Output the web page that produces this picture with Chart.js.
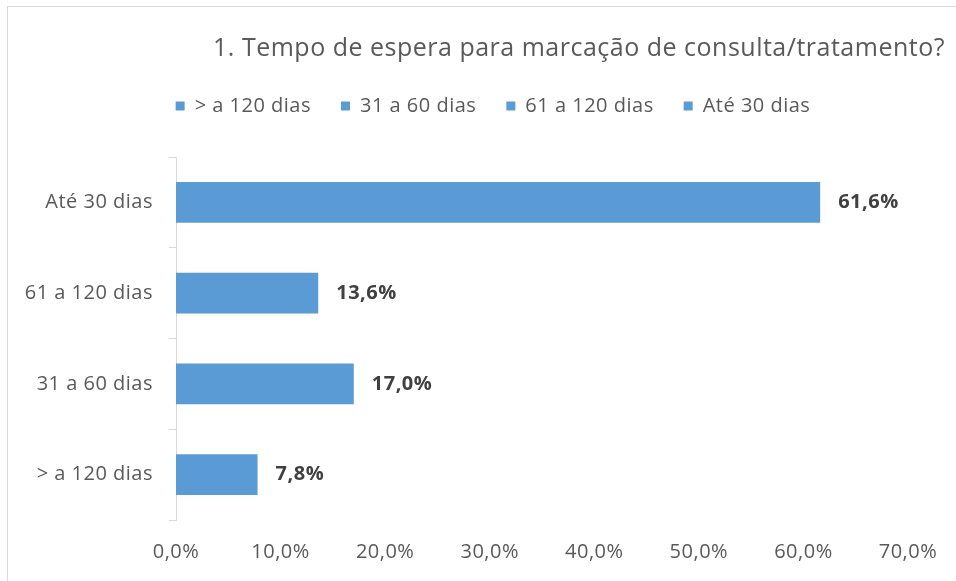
<!doctype html>
<html lang="pt">
<head>
    <meta charset="utf-8">
    <title>Tempo de espera</title>
    <script src="https://cdn.jsdelivr.net/npm/chart.js@4.4.1/dist/chart.umd.min.js"></script>
    <style>
        body { margin: 0; background: #fff; overflow: hidden; }
        #wrap { position: relative; width: 956px; height: 581px; }
        #frame { position: absolute; left: 7px; top: 6px; width: 2000px; height: 2000px; border: 1px solid #d9d9d9; }
        canvas { position: absolute; left: 0; top: 0; }
    </style>
</head>
<body>
<div id="wrap">
    <div id="frame"></div>
    <canvas id="chart" width="956" height="581"></canvas>
</div>

<script>
    const titleText = '1. Tempo de espera para marcação de consulta/tratamento?';
    const categories = ['> a 120 dias', '31 a 60 dias', '61 a 120 dias', 'Até 30 dias'];
    const values = [7.8, 17.0, 13.6, 61.6];
    const xTicks = [0, 10, 20, 30, 40, 50, 60, 70];

    const barColor = '#5b9bd5';
    const textColor = '#595959';
    const fontFamily = '"Open Sans", sans-serif';

    const pct = v => v.toFixed(1).replace('.', ',') + '%';

    // Calibri-like wide spacing, a bit of gap under the legend and a shifted legend centre
    const excelLook = {
        id: 'excelLook',
        beforeUpdate(chart) {
            chart.ctx.letterSpacing = '0.5px';
        },
        beforeDraw(chart) {
            chart.ctx.letterSpacing = '0.5px';
        },
        afterInit(chart) {
            const fit = chart.legend.fit;
            chart.legend.fit = function () {
                fit.call(this);
                this.height += 31;
            };
        },
        afterLayout(chart) {
            chart.legend.left += 33;
        }
    };

    // value labels to the right of each bar
    const barLabels = {
        id: 'barLabels',
        afterDatasetsDraw(chart) {
            const ctx = chart.ctx;
            const meta = chart.getDatasetMeta(0);
            ctx.save();
            ctx.font = 'bold 20px ' + fontFamily;
            ctx.fillStyle = '#404040';
            ctx.textAlign = 'left';
            ctx.textBaseline = 'middle';
            meta.data.forEach((bar, i) => {
                ctx.fillText(pct(values[i]), bar.x + 18, bar.y);
            });
            ctx.restore();
        }
    };

    new Chart(document.getElementById('chart'), {
        type: 'bar',
        data: {
            labels: categories,
            datasets: [{
                data: values,
                backgroundColor: barColor,
                borderWidth: 0,
                barPercentage: 0.45,
                categoryPercentage: 1.0,
            }],
        },
        options: {
            indexAxis: 'y',
            responsive: false,
            animation: false,
            layout: {
                padding: { left: 8, right: 11, top: 0, bottom: 0 },
            },
            plugins: {
                title: {
                    display: true,
                    text: titleText,
                    align: 'end',
                    color: textColor,
                    font: { family: fontFamily, size: 25, weight: 'normal' },
                    padding: { top: 34, bottom: 2 },
                },
                legend: {
                    display: true,
                    position: 'top',
                    align: 'center',
                    labels: {
                        boxWidth: 9,
                        boxHeight: 9,
                        padding: 30,
                        color: textColor,
                        font: { family: fontFamily, size: 20 },
                        generateLabels: () => categories.map(c => ({
                            text: c,
                            fillStyle: barColor,
                            strokeStyle: barColor,
                            lineWidth: 0,
                            fontColor: textColor,
                            hidden: false,
                        })),
                    },
                },
                tooltip: { enabled: false },
            },
            scales: {
                x: {
                    min: 0,
                    max: 70,
                    afterBuildTicks: axis => {
                        axis.ticks = xTicks.map(v => ({ value: v }));
                    },
                    afterFit: axis => { axis.height = 61; },
                    grid: { display: false },
                    border: { display: false },
                    ticks: {
                        padding: 12,
                        color: textColor,
                        font: { family: fontFamily, size: 20 },
                        callback: v => pct(v),
                    },
                },
                y: {
                    reverse: true,
                    afterFit: axis => { axis.width = 168; },
                    grid: {
                        drawOnChartArea: false,
                        drawTicks: true,
                        tickLength: 7,
                        color: '#d9d9d9',
                    },
                    border: { display: true, color: '#d9d9d9', width: 1 },
                    ticks: {
                        padding: 16,
                        color: textColor,
                        font: { family: fontFamily, size: 20 },
                    },
                },
                // empty strip on the right so the plot ends where the Excel one does
                yRight: {
                    type: 'linear',
                    position: 'right',
                    min: 0,
                    max: 1,
                    afterFit: axis => { axis.width = 37; },
                    grid: { display: false },
                    border: { display: false },
                    ticks: { display: false },
                },
            },
        },
        plugins: [excelLook, barLabels],
    });
</script>
</body>
</html>
